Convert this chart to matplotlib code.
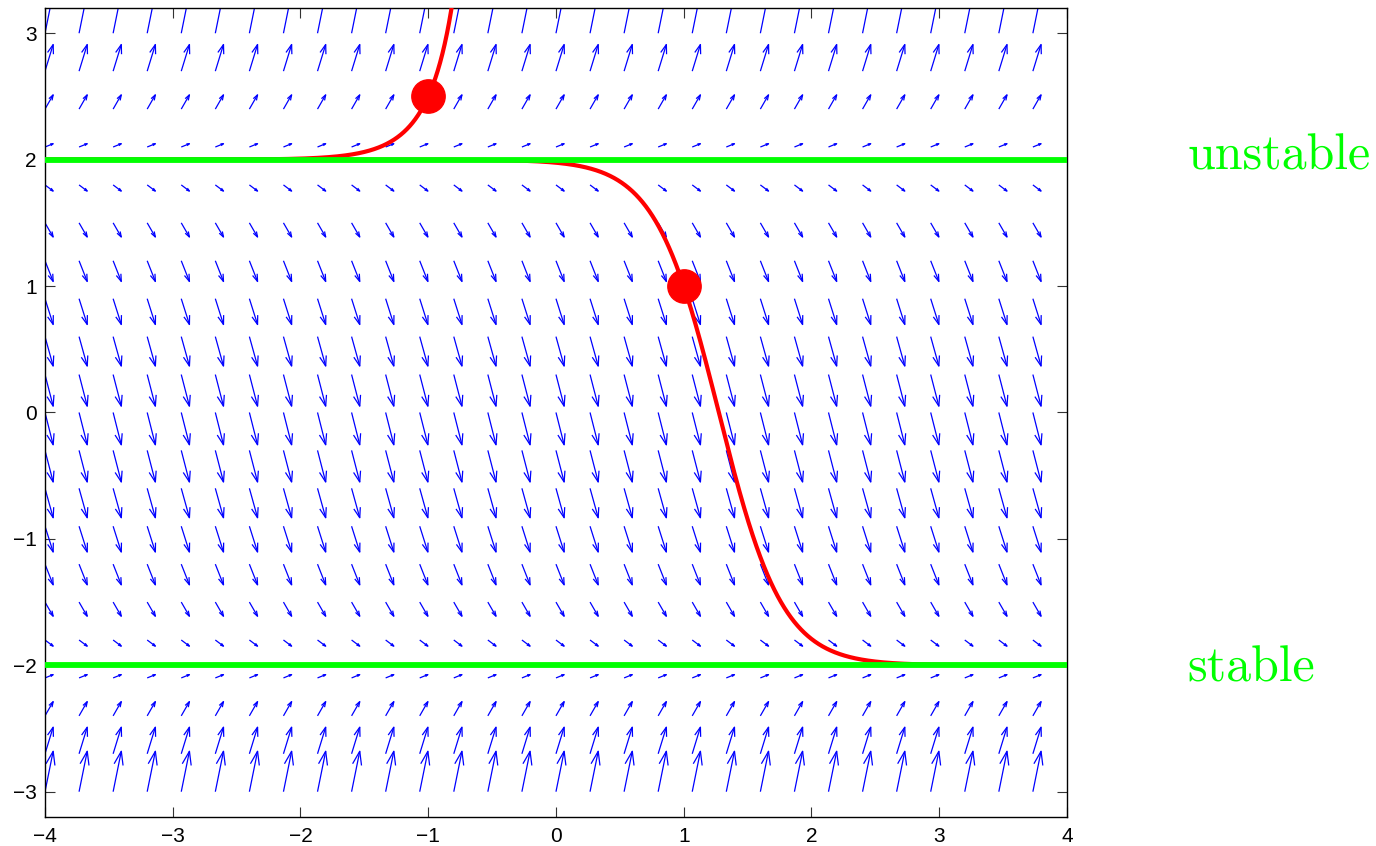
import numpy as np
import matplotlib
matplotlib.use('Agg')
import matplotlib.pyplot as plt
from matplotlib.collections import LineCollection

plt.rcParams['font.family'] = ['Liberation Sans', 'DejaVu Sans']
plt.rcParams['xtick.labelsize'] = 15
plt.rcParams['ytick.labelsize'] = 15

# ---- data ----
grid_x = -4 + (4 / 15) * np.arange(30)          # quiver columns
grid_y = np.round(np.linspace(-3, 3, 21), 2)     # quiver rows
row_slopes = [5.0, 3.29, 1.76, 0.41, -0.76, -1.75, -2.56, -3.19, -3.64, -3.91,
              -4.0, -3.91, -3.64, -3.19, -2.56, -1.75, -0.76, 0.41, 1.76, 3.29, 5.0]
equilibria = [2.0, -2.0]
eq_labels = ['unstable', 'stable']
init_x = [1.0, -1.0]
init_y = [1.0, 2.5]
xticks = [-4, -3, -2, -1, 0, 1, 2, 3, 4]
yticks = [-3, -2, -1, 0, 1, 2, 3]

# ---- figure ----
fig = plt.figure(figsize=(13.76, 8.46), dpi=100)
ax = fig.add_axes([0.0327, 0.0343, 0.7427, 0.9563])
ax.set_xlim(-4, 4)
ax.set_ylim(-3.2, 3.2)

# quiver field (MATLAB-style open arrowheads)
scale = 0.064
alpha, beta = 0.33, 0.33
X, Y = np.meshgrid(grid_x, grid_y)
U = np.ones_like(X) * scale
V = np.array(row_slopes)[:, None] * np.ones_like(X) * scale
segs = []
for x, y, u, v in zip(X.ravel(), Y.ravel(), U.ravel(), V.ravel()):
    tipx, tipy = x + u, y + v
    segs.append([(x, y), (tipx, tipy)])
    segs.append([(tipx - alpha * (u + beta * v), tipy - alpha * (v - beta * u)),
                 (tipx, tipy),
                 (tipx - alpha * (u - beta * v), tipy - alpha * (v + beta * u))])
lc = LineCollection(segs, colors='blue', linewidths=0.9, zorder=2)
ax.add_collection(lc)

# equilibrium lines (drawn above the red curves)
for e in equilibria:
    ax.axhline(e, color='#00ff00', lw=4.2, zorder=4)

# solution curves of y' = (y-2)(y+2)
xs = np.linspace(-4, 4, 4000)
for x0, y0 in zip(init_x, init_y):
    K = (y0 - 2) / (y0 + 2) * np.exp(-4 * x0)
    E = K * np.exp(4 * xs)
    ys = 2 * (1 + E) / (1 - E)
    if K > 0:
        xb = np.log(1 / K) / 4
        ys = np.where(xs < xb, ys, np.nan)
    ys = np.where(ys > 4, np.nan, ys)
    ax.plot(xs, ys, color='red', lw=3, zorder=3)
    ax.plot([x0], [y0], 'o', color='red', ms=24, zorder=5)

# labels
ax.text(4.94, 1.92, eq_labels[0], color='#00ff00', fontsize=36, family='cmr10',
        ha='left', va='baseline', clip_on=False)
ax.text(4.94, -2.13, eq_labels[1], color='#00ff00', fontsize=36, family='cmr10',
        ha='left', va='baseline', clip_on=False)

ax.set_xticks(xticks)
ax.set_yticks(yticks)
ax.tick_params(direction='in', top=True, right=True, length=7, width=0.8,
               color='#333333')
ax.tick_params(axis='x', pad=7)
ax.tick_params(axis='y', pad=6)
for s in ax.spines.values():
    s.set_linewidth(1.0)

fig.savefig('out.png', dpi=100)
